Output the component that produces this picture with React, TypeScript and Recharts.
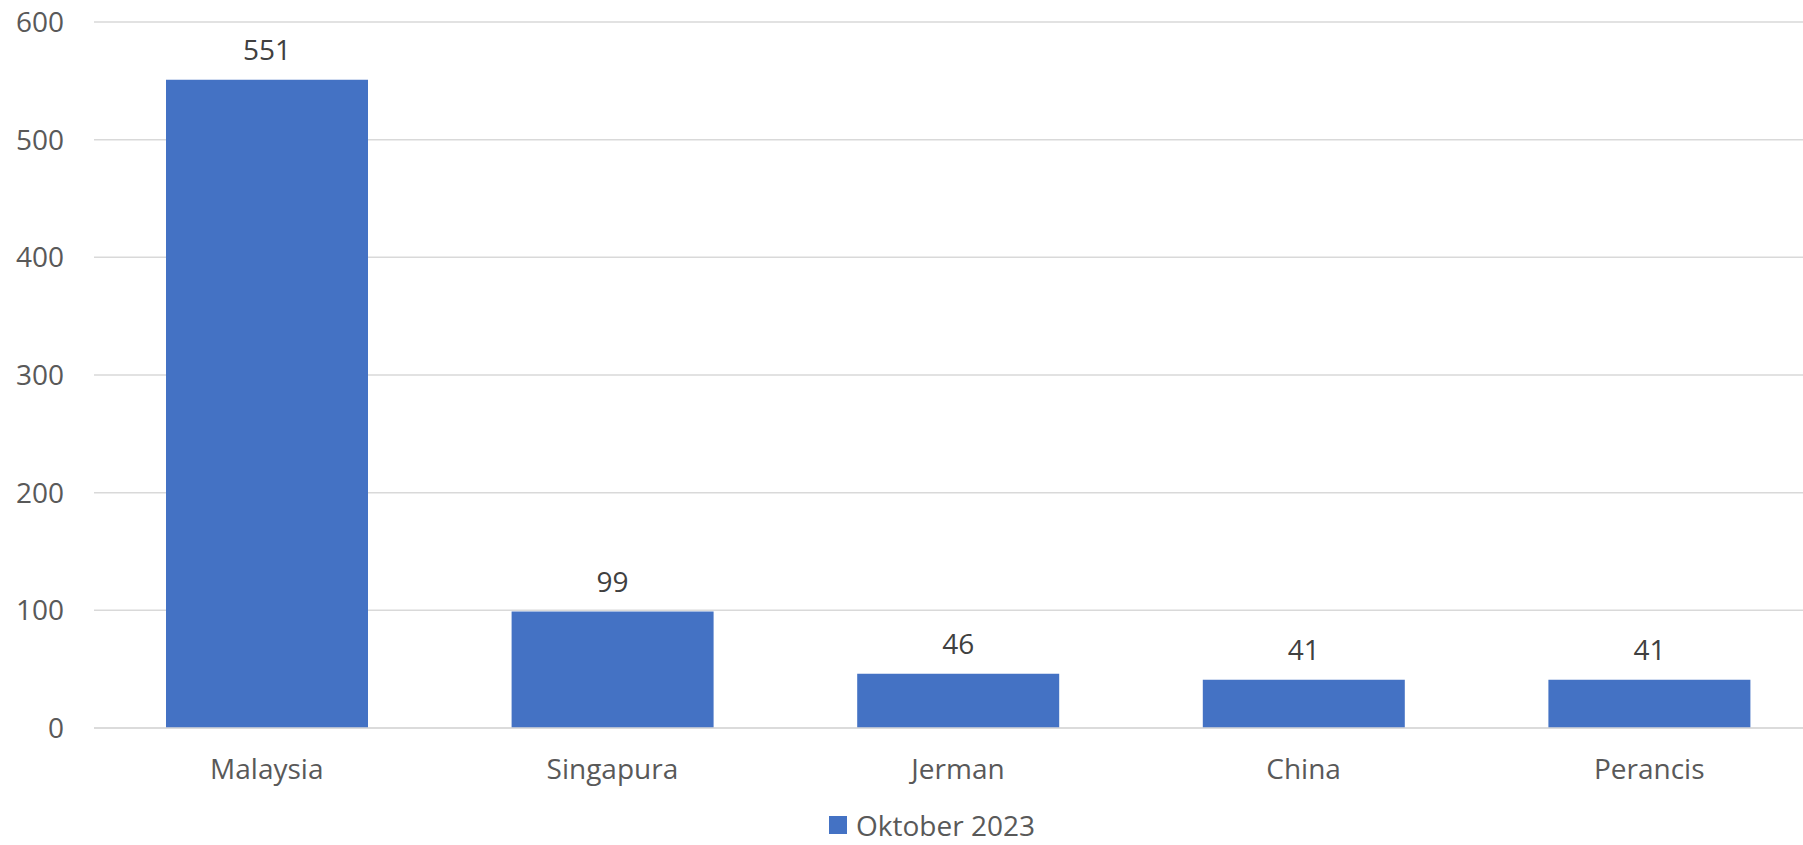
import React from "react";
import { BarChart, Bar, XAxis, YAxis, CartesianGrid, Legend, LabelList } from "recharts";

const countries = ["Malaysia", "Singapura", "Jerman", "China", "Perancis"];
const oktober2023 = [551, 99, 46, 41, 41];
const yTicks = [0, 100, 200, 300, 400, 500, 600];
const seriesName = "Oktober 2023";

const data = countries.map((c, i) => ({ country: c, value: oktober2023[i] }));

const FONT = '"Open Sans", "Segoe UI", sans-serif';

function LegendBox() {
    return (
        <div style={{ display: "flex", alignItems: "center", height: 30, fontFamily: FONT, fontSize: 28, lineHeight: "28px", color: "#595959", whiteSpace: "nowrap" }}>
            <span style={{ display: "inline-block", width: 18, height: 18, background: "#4472C4", marginRight: 9 }} />
            <span>{seriesName}</span>
        </div>
    );
}

export default function App() {
    return (
        <div style={{ width: 1803, height: 845, overflow: "hidden", position: "relative", background: "#fff" }}>
            <style>{"body{margin:0}"}</style>
            <BarChart
                width={1830}
                height={845}
                data={data}
                margin={{ top: 22, right: 8, left: 0, bottom: 0 }}
            >
                <CartesianGrid vertical={false} stroke="#D9D9D9" strokeWidth={1.5} />
                <XAxis
                    dataKey="country"
                    height={87}
                    axisLine={{ stroke: "#D9D9D9", strokeWidth: 1.5 }}
                    tickLine={false}
                    tickSize={0}
                    tickMargin={31}
                    tick={{ fontSize: 28, fill: "#595959", fontFamily: FONT }}
                />
                <YAxis
                    width={94}
                    domain={[0, 600]}
                    ticks={yTicks}
                    axisLine={false}
                    tickLine={false}
                    tickSize={0}
                    tickMargin={30}
                    tick={{ fontSize: 28, fill: "#595959", fontFamily: FONT }}
                />
                <Legend
                    verticalAlign="bottom"
                    content={() => <LegendBox />}
                    wrapperStyle={{ left: 829, top: 810, width: 300, height: 30 }}
                />
                <Bar name={seriesName} dataKey="value" fill="#4472C4" barSize={202} isAnimationActive={false}>
                    <LabelList dataKey="value" position="top" offset={20} fill="#404040" fontSize={28} fontFamily={FONT} />
                </Bar>
            </BarChart>
        </div>
    );
}
